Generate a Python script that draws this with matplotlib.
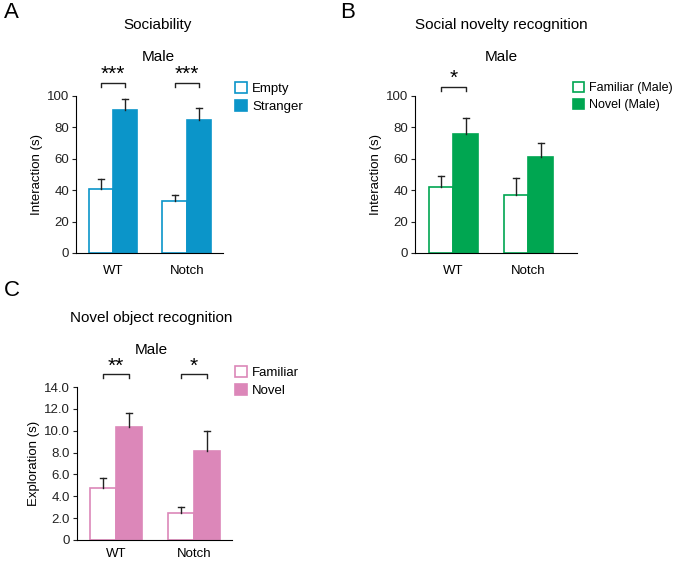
import numpy as np
import matplotlib.pyplot as plt
from matplotlib.ticker import FixedLocator, FixedFormatter

plt.rcParams['font.family'] = ['Liberation Sans', 'DejaVu Sans']

groups = ["WT", "Notch"]

# Panel A: sociability
soc_empty = [41, 33]
soc_empty_se = [6, 4]
soc_stranger = [91, 85]
soc_stranger_se = [7, 7.5]
soc_sig = ["***", "***"]

# Panel B: social novelty recognition
nov_familiar = [42, 37]
nov_familiar_se = [7, 11]
nov_novel = [76, 61]
nov_novel_se = [10, 9]
nov_sig = ["*", None]

# Panel C: novel object recognition
obj_familiar = [4.8, 2.5]
obj_familiar_se = [0.9, 0.5]
obj_novel = [10.3, 8.1]
obj_novel_se = [1.3, 1.9]
obj_sig = ["**", "*"]

BLUE = "#0b95c9"
GREEN = "#00a651"
PINK = "#dc87b9"
INK = "#222222"

W, H = 673, 562
fig = plt.figure(figsize=(W / 100, H / 100), dpi=100)


def px_axes(left, top, right, bottom):
    return fig.add_axes([left / W, 1 - bottom / H, (right - left) / W, (bottom - top) / H])


def upper_err(ax, x, y, se):
    # only the upper half of the error bar, with a cap on top
    for xi, yi, si in zip(x, y, se):
        ax.plot([xi, xi], [yi, yi + si], color=INK, lw=1, zorder=3)
        ax.plot([xi - 0.04, xi + 0.04], [yi + si, yi + si], color=INK, lw=1, zorder=3)


def panel(ax, a, a_se, b, b_se, color, labels, ymax, yticks, yticklabels, ylabel,
          xlim, sig, br_y, br_d, star_y, title, title_xy, male_xy, leg_xy, letter, letter_xy,
          xpad=9, legsize=9.5):
    x = np.arange(len(groups))
    w = 0.33
    ax.bar(x - w / 2, a, w, color="white", edgecolor=color, linewidth=1.2, label=labels[0])
    ax.bar(x + w / 2, b, w, color=color, edgecolor=color, linewidth=1.2, label=labels[1])
    upper_err(ax, x - w / 2, a, a_se)
    upper_err(ax, x + w / 2, b, b_se)
    ax.set_xlim(*xlim)
    ax.set_ylim(0, ymax)
    ax.yaxis.set_major_locator(FixedLocator(yticks))
    ax.yaxis.set_major_formatter(FixedFormatter(yticklabels))
    ax.set_xticks(x)
    ax.set_xticklabels(groups, fontsize=9.5)
    ax.tick_params(axis="x", length=0, pad=xpad)
    ax.tick_params(axis="y", length=3, width=0.8, labelsize=9.5, pad=2, colors=INK)
    ax.spines[["top", "right"]].set_visible(False)
    ax.spines["left"].set_linewidth(0.8)
    ax.spines["bottom"].set_linewidth(0.8)
    ax.set_ylabel(ylabel, fontsize=9.5, labelpad=3)
    for i, s in enumerate(sig):
        if s is None:
            continue
        x0, x1 = i - w / 2, i + w / 2
        ax.plot([x0, x0, x1, x1], [br_y - br_d, br_y, br_y, br_y - br_d], color=INK,
                lw=1, clip_on=False)
        ax.text(i, star_y, s, ha="center", va="center", fontsize=15, clip_on=False)
    fig.text(title_xy[0] / W, 1 - title_xy[1] / H, title, ha="center", va="center", fontsize=11)
    fig.text(male_xy[0] / W, 1 - male_xy[1] / H, "Male", ha="center", va="center", fontsize=11)
    fig.text(letter_xy[0] / W, 1 - letter_xy[1] / H, letter, ha="left", va="center", fontsize=16)
    fig.legend(handles=ax.containers[:2], labels=labels, loc="upper left",
               bbox_to_anchor=(leg_xy[0] / W, 1 - leg_xy[1] / H), frameon=False,
               fontsize=legsize, handlelength=0.9, handleheight=0.9, handletextpad=0.4,
               labelspacing=0.35, borderaxespad=0, borderpad=0)


axA = px_axes(76, 96, 223, 253)
panel(axA, soc_empty, soc_empty_se, soc_stranger, soc_stranger_se, BLUE,
      ["Empty", "Stranger"], 100, [0, 20, 40, 60, 80, 100],
      ["0", "20", "40", "60", "80", "100"], "Interaction (s)", (-0.5, 1.49),
      soc_sig, 108, 2.5, 114, "Sociability", (158, 25), (158, 57), (235, 82), "A", (4, 12))

axB = px_axes(415, 96, 577, 253)
panel(axB, nov_familiar, nov_familiar_se, nov_novel, nov_novel_se, GREEN,
      ["Familiar (Male)", "Novel (Male)"], 100, [0, 20, 40, 60, 80, 100],
      ["0", "20", "40", "60", "80", "100"], "Interaction (s)", (-0.51, 1.65),
      nov_sig, 105.5, 2.5, 111, "Social novelty recognition", (501, 25), (501, 57), (573, 82),
      "B", (340, 12), legsize=9.0)

axC = px_axes(77, 387, 232, 540)
panel(axC, obj_familiar, obj_familiar_se, obj_novel, obj_novel_se, PINK,
      ["Familiar", "Novel"], 14, [0, 2, 4, 6, 8, 10, 12, 14],
      ["0", "2.0", "4.0", "6.0", "8.0", "10.0", "12.0", "14.0"], "Exploration (s)",
      (-0.5, 1.49), obj_sig, 15.2, 0.4, 15.9, "Novel object recognition", (151, 318),
      (151, 350), (235, 366), "C", (4, 290), xpad=6)

fig.savefig("out.png", dpi=100)
